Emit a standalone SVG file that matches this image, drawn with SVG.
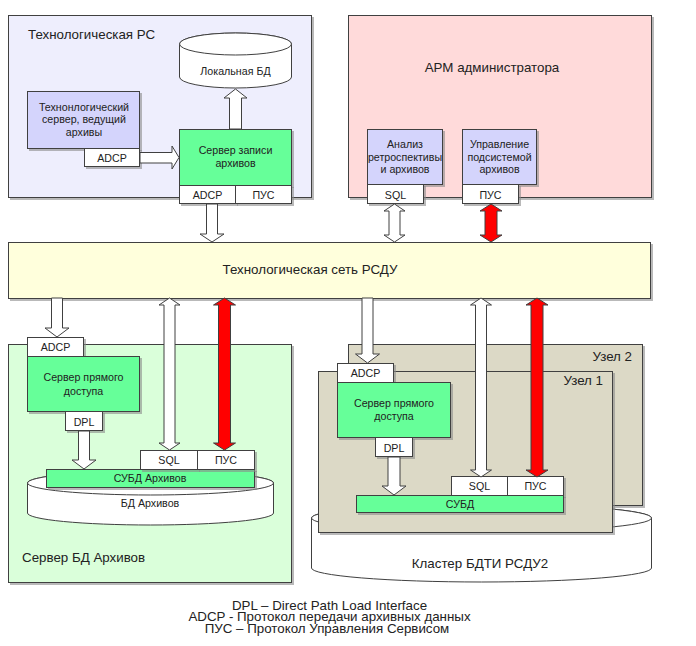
<svg xmlns="http://www.w3.org/2000/svg" width="696" height="646" viewBox="0 0 696 646">
<defs>
<filter id="sh" x="-5%" y="-5%" width="115%" height="120%">
<feOffset in="SourceAlpha" dx="1.5" dy="1.5" result="o"/>
<feFlood flood-color="#8a8a8a" flood-opacity="0.6"/>
<feComposite in2="o" operator="in" result="s"/>
<feMerge><feMergeNode in="s"/><feMergeNode in="SourceGraphic"/></feMerge>
</filter>
</defs>
<style>
text{font-family:"Liberation Sans",Arial,sans-serif;fill:#222;}
.t13{font-size:13.33px;}
.t11{font-size:10.67px;}
.c{text-anchor:middle;}
.r{text-anchor:end;}
rect{filter:url(#sh);}
.box{stroke:#404040;stroke-width:1;}
.port{fill:#ffffff;stroke:#404040;stroke-width:1;}
.green{fill:#66ff99;stroke:#404040;stroke-width:1;}
.lav{fill:#d4d4fc;stroke:#404040;stroke-width:1;}
.cyl{fill:#ffffff;stroke:#404040;stroke-width:1;}
.arw{fill:#ffffff;stroke:#404040;stroke-width:1;stroke-linejoin:miter;}
.red{fill:#ff0000;stroke:#404040;stroke-width:1;}
.leg{font-size:13.33px;text-anchor:middle;}
</style>

<g id="tech-pc">
<rect class="box" x="8.5" y="15.5" width="303" height="182" fill="#eeeefd"/>
<text class="t13" x="28" y="39">Технологическая РС</text>
</g>

<g id="arm">
<rect class="box" x="348.5" y="15.5" width="303" height="182" fill="#ffdada"/>
<text class="t13 c" x="492" y="72">АРМ администратора</text>
</g>

<g id="local-db">
<path class="cyl" d="M179.5 44 A56 11 0 0 1 291.5 44 L291.5 77 A56 11 0 0 1 179.5 77 Z"/>
<ellipse class="cyl" cx="235.5" cy="44" rx="56" ry="11"/>
<text class="t11 c" x="235.5" y="75">Локальная БД</text>
</g>

<g id="tech-server">
<rect class="lav" x="27.5" y="91.5" width="112" height="57"/>
<text class="t11 c" x="84" y="111">Технонлогический</text>
<text class="t11 c" x="84" y="123">сервер, ведущий</text>
<text class="t11 c" x="84" y="136">архивы</text>
<rect class="port" x="84.5" y="148.5" width="55" height="18"/>
<text class="t11 c" x="112" y="161.5">ADCP</text>
</g>

<g id="archive-writer">
<rect class="green" x="179.5" y="129.5" width="112" height="56"/>
<text class="t11 c" x="235.5" y="154">Сервер записи</text>
<text class="t11 c" x="235.5" y="167">архивов</text>
<rect class="port" x="179.5" y="185.5" width="56" height="18"/>
<text class="t11 c" x="207.5" y="199">ADCP</text>
<rect class="port" x="235.5" y="185.5" width="56" height="18"/>
<text class="t11 c" x="263.5" y="199">ПУС</text>
</g>

<g id="analysis">
<rect class="lav" x="367.5" y="129.5" width="75" height="55"/>
<text class="t11 c" x="405" y="148">Анализ</text>
<text class="t11 c" x="405" y="161">ретроспективы</text>
<text class="t11 c" x="405" y="173">и архивов</text>
<rect class="port" x="367.5" y="184.5" width="56" height="19"/>
<text class="t11 c" x="395.5" y="198.5">SQL</text>
</g>

<g id="management">
<rect class="lav" x="462.5" y="129.5" width="74" height="55"/>
<text class="t11 c" x="499.5" y="148">Управление</text>
<text class="t11 c" x="499.5" y="161">подсистемой</text>
<text class="t11 c" x="499.5" y="173">архивов</text>
<rect class="port" x="462.5" y="184.5" width="56" height="19"/>
<text class="t11 c" x="490.5" y="198.5">ПУС</text>
</g>

<g id="network">
<rect class="box" x="8.5" y="242.5" width="642" height="56" fill="#ffffdc"/>
<text class="t13 c" x="310" y="274">Технологическая сеть РСДУ</text>
</g>

<g id="archive-db-server">
<rect class="box" x="8.5" y="344.5" width="283" height="238" fill="#daffda"/>
<text class="t13" x="22" y="562">Сервер БД Архивов</text>
<path class="cyl" d="M27.5 483 A123 12 0 0 1 273.5 483 L273.5 513 A123 12 0 0 1 27.5 513 Z"/>
<ellipse class="cyl" cx="150.5" cy="483" rx="123" ry="12"/>
<text class="t11 c" x="150" y="507">БД Архивов</text>
<rect class="green" x="46.5" y="469.5" width="208" height="18"/>
<text class="t11 c" x="150" y="482">СУБД Архивов</text>
<rect class="port" x="140.5" y="450.5" width="57" height="19"/>
<text class="t11 c" x="169" y="464">SQL</text>
<rect class="port" x="197.5" y="450.5" width="57" height="19"/>
<text class="t11 c" x="226" y="464">ПУС</text>
<rect class="port" x="27.5" y="337.5" width="56" height="19"/>
<text class="t11 c" x="55.5" y="351">ADCP</text>
<rect class="green" x="27.5" y="356.5" width="112" height="55"/>
<text class="t11 c" x="83.5" y="381">Сервер прямого</text>
<text class="t11 c" x="83.5" y="395">доступа</text>
<rect class="port" x="65.5" y="411.5" width="37" height="19"/>
<text class="t11 c" x="84" y="425.5">DPL</text>
</g>

<g id="cluster">
<path class="cyl" d="M311.5 518 A170 14 0 0 1 651.5 518 L651.5 568 A170 14 0 0 1 311.5 568 Z"/>
<ellipse class="cyl" cx="481.5" cy="518" rx="170" ry="14"/>
<text class="t13 c" x="480" y="568">Кластер БДТИ РСДУ2</text>
</g>

<g id="node2">
<rect class="box" x="348.5" y="344.5" width="294" height="161" fill="#dcd9c6"/>
<text class="t13 r" x="632" y="361">Узел 2</text>
</g>

<g id="node1">
<rect class="box" x="318.5" y="371.5" width="294" height="161" fill="#dcd9c6"/>
<text class="t13 r" x="603" y="385">Узел 1</text>
<rect class="port" x="337.5" y="363.5" width="56" height="19"/>
<text class="t11 c" x="365.5" y="377">ADCP</text>
<rect class="green" x="337.5" y="382.5" width="113" height="55"/>
<text class="t11 c" x="394" y="407">Сервер прямого</text>
<text class="t11 c" x="394" y="420">доступа</text>
<rect class="port" x="375.5" y="437.5" width="37" height="19"/>
<text class="t11 c" x="394" y="451.5">DPL</text>
<rect class="port" x="451.5" y="476.5" width="56" height="19"/>
<text class="t11 c" x="479.5" y="490">SQL</text>
<rect class="port" x="507.5" y="476.5" width="56" height="19"/>
<text class="t11 c" x="535.5" y="490">ПУС</text>
<rect class="green" x="356.5" y="495.5" width="207" height="17"/>
<text class="t11 c" x="460" y="508">СУБД</text>
</g>

<g id="connectors">
<path class="arw" d="M140 152.5 L172 152.5 L172 146 L179 157.5 L172 169 L172 163 L140 163 Z"/>
<path class="arw" d="M229.5 129 L229.5 98 L224 98 L235.5 89 L247 98 L241.5 98 L241.5 129 Z"/>
<path class="arw" d="M206.5 204 L217.5 204 L217.5 234 L224 234 L212 242 L200 234 L206.5 234 Z"/>
<path class="arw" d="M394.5 204 L405 211 L400 211 L400 235 L405 235 L394.5 242 L384 235 L389 235 L389 211 L384 211 Z"/>
<path class="red" d="M491 204 L502 211 L497 211 L497 235 L502 235 L491 242 L480 235 L485 235 L485 211 L480 211 Z"/>
<path class="arw" d="M51.5 298 L62.5 298 L62.5 328 L69 328 L57 337 L45 328 L51.5 328 Z"/>
<path class="arw" d="M78.5 431 L89.5 431 L89.5 460 L96 460 L84 469 L72 460 L78.5 460 Z"/>
<path class="arw" d="M169.5 298 L180 305 L175 305 L175 443 L180 443 L169.5 450 L159 443 L164 443 L164 305 L159 305 Z"/>
<path class="red" d="M224.5 298 L235.5 305 L230.5 305 L230.5 443 L235.5 443 L224.5 450 L213.5 443 L218.5 443 L218.5 305 L213.5 305 Z"/>
<path class="arw" d="M362 298 L373 298 L373 354 L379.5 354 L367.5 363 L355.5 354 L362 354 Z"/>
<path class="arw" d="M388 457 L400 457 L400 486 L406 486 L394 495 L382 486 L388 486 Z"/>
<path class="arw" d="M481 298 L491.5 305 L486.5 305 L486.5 470 L491.5 470 L481 477 L470.5 470 L475.5 470 L475.5 305 L470.5 305 Z"/>
<path class="red" d="M537 298 L548 305 L543 305 L543 470 L548 470 L537 477 L526 470 L531 470 L531 305 L526 305 Z"/>
</g>

<g id="legend">
<text class="leg" x="329.5" y="609.5">DPL – Direct Path Load Interface</text>
<text class="leg" x="329.5" y="621.2">ADCP - Протокол передачи архивных данных</text>
<text class="leg" x="327" y="632.8">ПУС – Протокол Управления Сервисом</text>
</g>
</svg>
